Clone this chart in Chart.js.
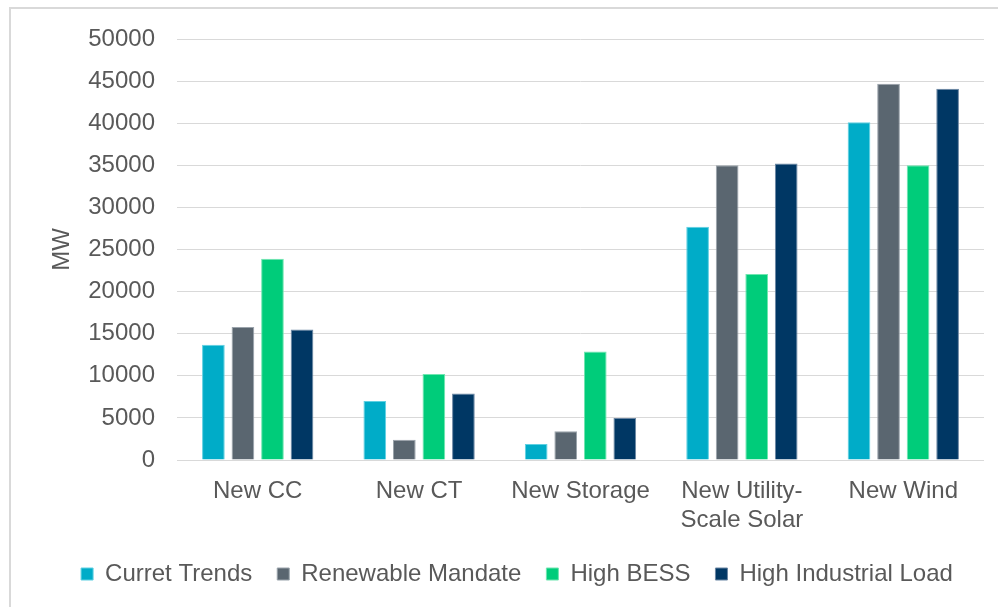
<!DOCTYPE html>
<html>
<head>
<meta charset="utf-8">
<script src="https://cdn.jsdelivr.net/npm/chart.js@4"></script>
<style>
  html, body { margin: 0; padding: 0; background: #ffffff; overflow: hidden; }
  #frame {
    position: absolute; left: 9px; top: 7px; width: 1010px; height: 620px;
    border: 2px solid #d9d9d9; box-sizing: border-box;
  }
  #wrap { position: absolute; left: 0; top: 0; width: 998px; height: 607px; }
</style>
</head>
<body>
<div id="frame"></div>
<div id="wrap"><canvas id="chart" width="998" height="607"></canvas></div>
<script>
// Capacity additions by resource type under each scenario (MW)
const categories = ['New CC', 'New CT', 'New Storage', ['New Utility-', 'Scale Solar'], 'New Wind'];
const seriesNames = ['Curret Trends', 'Renewable Mandate', 'High BESS', 'High Industrial Load'];
const curretTrends = [13700, 7000, 1900, 27700, 40100];
const renewableMandate = [15800, 2400, 3400, 35000, 44700];
const highBess = [23900, 10200, 12900, 22100, 35000];
const highIndustrialLoad = [15500, 7900, 5000, 35200, 44100];
const yTicks = [0, 5000, 10000, 15000, 20000, 25000, 30000, 35000, 40000, 45000, 50000];

const fills = ['#00acc8', '#5a6670', '#00cc7a', '#003764'];
const edges = ['#5fd0e2', '#9aa3ab', '#6fe6b0', '#6b86a3'];
const seriesValues = [curretTrends, renewableMandate, highBess, highIndustrialLoad];

const textColor = '#595959';
const fontFamily = '"Liberation Sans", Arial, sans-serif';

new Chart(document.getElementById('chart'), {
  type: 'bar',
  data: {
    labels: categories,
    datasets: seriesNames.map((name, i) => ({
      label: name,
      data: seriesValues[i],
      backgroundColor: fills[i],
      borderColor: edges[i],
      borderWidth: 1,
      categoryPercentage: 0.732,
      barPercentage: 0.768
    }))
  },
  options: {
    responsive: false,
    animation: false,
    devicePixelRatio: 1,
    layout: { padding: { left: 50, right: 14, top: 39, bottom: 11 } },
    plugins: {
      tooltip: { enabled: false },
      legend: {
        position: 'bottom',
        labels: {
          color: textColor,
          font: { family: fontFamily, size: 24 },
          boxWidth: 12,
          boxHeight: 12,
          padding: 25
        }
      }
    },
    scales: {
      x: {
        grid: { display: false, drawTicks: false },
        border: { display: false },
        ticks: {
          color: textColor,
          font: { family: fontFamily, size: 24, lineHeight: 1.2 },
          padding: 17,
          maxRotation: 0,
          autoSkip: false
        },
        afterFit: (scale) => { scale.height = 77; }
      },
      y: {
        min: 0,
        max: 50000,
        afterBuildTicks: (scale) => { scale.ticks = yTicks.map(v => ({ value: v })); },
        grid: { color: '#d9d9d9', lineWidth: 1, drawTicks: false },
        border: { display: false },
        ticks: {
          color: textColor,
          font: { family: fontFamily, size: 24 },
          padding: 22,
          callback: (v) => String(v)
        },
        title: {
          display: true,
          text: 'MW',
          color: textColor,
          font: { family: fontFamily, size: 24, lineHeight: 1 },
          padding: 0
        },
        afterFit: (scale) => { scale.width = 127; }
      }
    }
  }
});
</script>
</body>
</html>
